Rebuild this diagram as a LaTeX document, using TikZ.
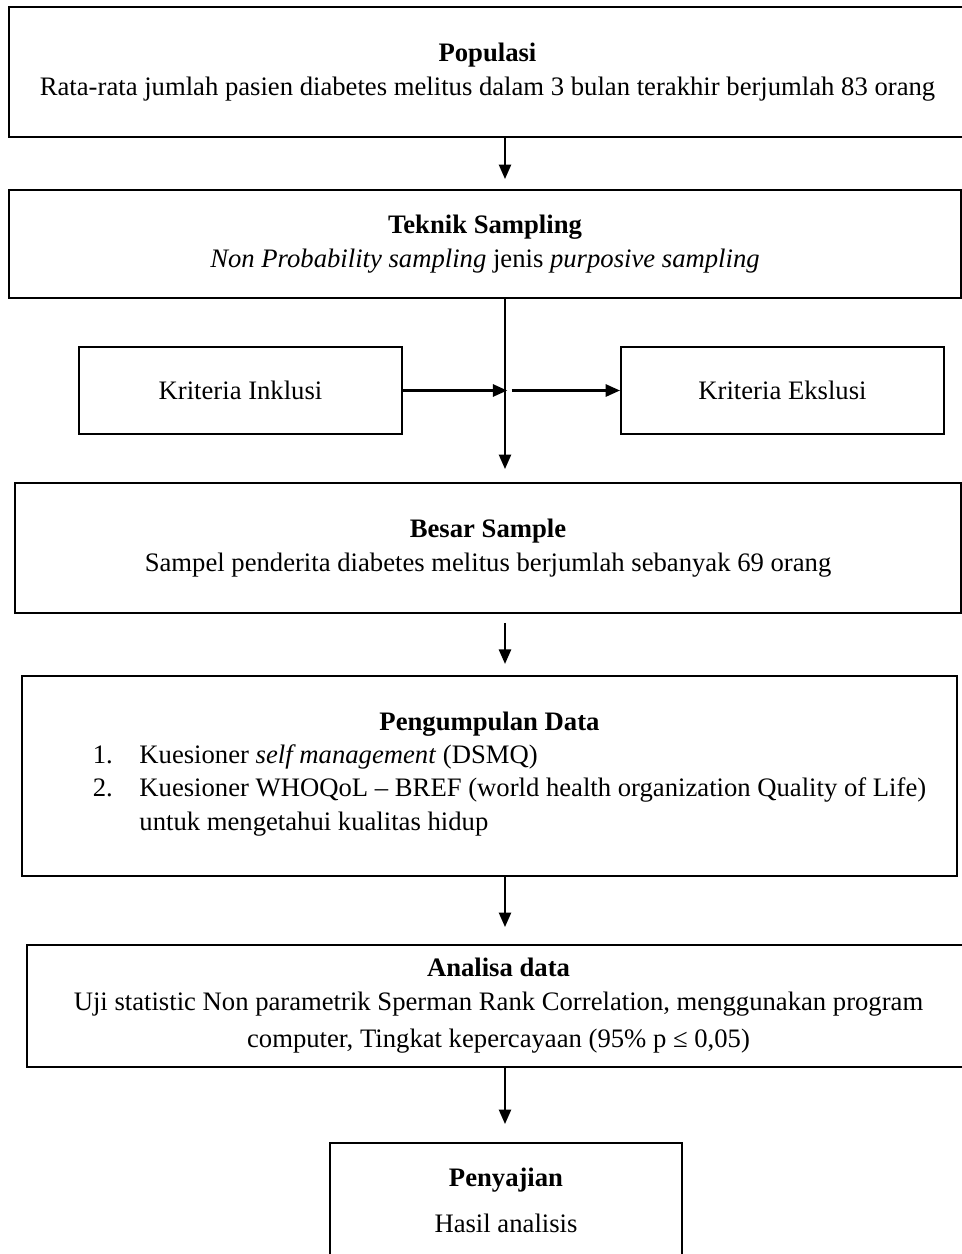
\documentclass[tikz,border=0pt]{standalone}
\usepackage{fontspec}
\setmainfont{Liberation Serif}
\usetikzlibrary{arrows.meta, calc}
\tikzset{
  box/.style={draw, line width=0.9pt, inner sep=0pt, align=center, font=\fontsize{12pt}{15pt}\selectfont},
  flow/.style={-{Triangle[length=6.5pt, width=5.5pt]}, line width=0.8pt},
  sideflow/.style={-{Triangle[length=6.5pt, width=5.5pt]}, line width=1.1pt}
}
\begin{document}
\begin{tikzpicture}[x=0.45pt, y=-0.45pt]
\useasboundingbox (0,0) rectangle (962,1254);
\clip (0,0) rectangle (962,1254);
\coordinate (spine) at (505,0);
% boxes
\node[box, minimum width=430.65pt, minimum height=58.5pt] (pop) at (487.5,72)
  {\textbf{Populasi}\\ Rata-rata jumlah pasien diabetes melitus dalam 3 bulan terakhir berjumlah 83 orang};
\node[box, minimum width=428.4pt, minimum height=48.6pt] (tek) at (485,244)
  {\textbf{Teknik Sampling}\\ \textit{Non Probability sampling} jenis \textit{purposive sampling}};
\node[box, minimum width=145.35pt, minimum height=39.15pt] (inkl) at (240.5,390.5) {Kriteria Inklusi};
\node[box, minimum width=145.35pt, minimum height=39.15pt] (eksl) at (782.5,390.5) {Kriteria Ekslusi};
\node[box, minimum width=425.7pt, minimum height=58.5pt] (besar) at (488,548)
  {\textbf{Besar Sample}\\ Sampel penderita diabetes melitus berjumlah sebanyak 69 orang};
\node[box, minimum width=420.75pt, minimum height=90pt] (kumpul) at (489.5,776)
  {\textbf{Pengumpulan Data}\\
   \hspace*{18pt}\begin{tabular}[t]{@{}l@{\hspace{12pt}}l@{}}
   1. & Kuesioner \textit{self management} (DSMQ)\\
   2. & Kuesioner WHOQoL – BREF (world health organization Quality of Life)\\
      & untuk mengetahui kualitas hidup
   \end{tabular}};
\node[box, minimum width=424.35pt, minimum height=54.9pt] (analisa) at (498.5,1006)
  {\textbf{Analisa data}\\ Uji statistic Non parametrik Sperman Rank Correlation, menggunakan program\\[2pt]
   computer, Tingkat kepercayaan (95\% p ≤ 0,05)};
\node[box, minimum width=158.4pt, minimum height=51.75pt] (saji) at (506,1200.5)
  {\textbf{Penyajian}\\[6pt] Hasil analisis};
% connectors
\coordinate (junc) at (inkl.east -| spine);
\draw[flow, shorten >=4.5pt] (pop.south -| spine) -- (tek.north -| spine);
\draw[flow, shorten >=5.85pt] (tek.south -| spine) -- (besar.north -| spine);
\draw[sideflow, shorten >=-1pt] (inkl.east) -- (junc);
\draw[sideflow, shorten <=3pt] (junc) -- (eksl.west);
\draw[flow, shorten <=4pt, shorten >=5pt] (besar.south -| spine) -- (kumpul.north -| spine);
\draw[flow, shorten >=7.65pt] (kumpul.south -| spine) -- (analisa.north -| spine);
\draw[flow, shorten >=8.1pt] (analisa.south -| spine) -- (saji.north -| spine);
\end{tikzpicture}
\end{document}
